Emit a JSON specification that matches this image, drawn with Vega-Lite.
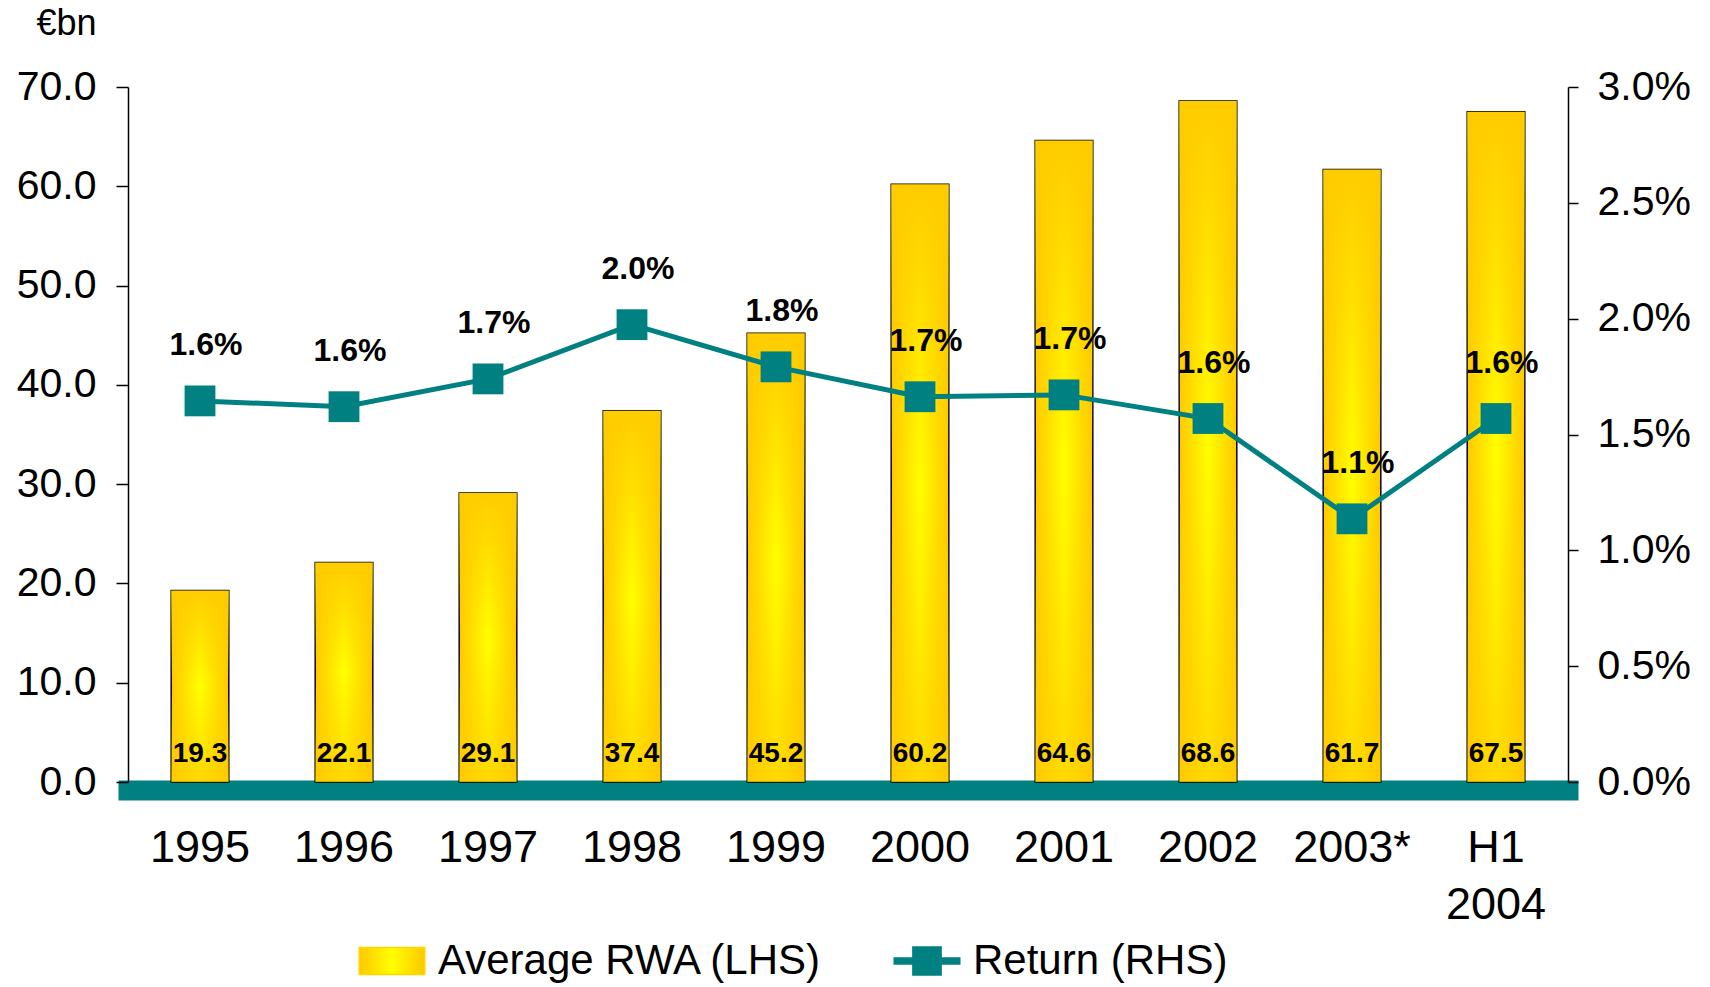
{
  "$schema": "https://vega.github.io/schema/vega-lite/v6.json",
  "width": 1440,
  "height": 695,
  "autosize": {"type": "none"},
  "padding": {"left": 128, "top": 87, "right": 142, "bottom": 205},
  "background": "white",
  "config": {"view": {"stroke": null}, "font": "Liberation Sans"},
  "data": {
    "values": [
      {"period": "1995", "rwa": 19.3, "ret": 0.01645},
      {"period": "1996", "rwa": 22.1, "ret": 0.01620},
      {"period": "1997", "rwa": 29.1, "ret": 0.01740},
      {"period": "1998", "rwa": 37.4, "ret": 0.01974},
      {"period": "1999", "rwa": 45.2, "ret": 0.01792},
      {"period": "2000", "rwa": 60.2, "ret": 0.01663},
      {"period": "2001", "rwa": 64.6, "ret": 0.01671},
      {"period": "2002", "rwa": 68.6, "ret": 0.01569},
      {"period": "2003*", "rwa": 61.7, "ret": 0.01136},
      {"period": "H1 2004", "rwa": 67.5, "ret": 0.01569}
    ]
  },
  "layer": [
    {
      "encoding": {
        "x": {
          "field": "period", "type": "nominal", "sort": null,
          "scale": {"paddingInner": 0.6, "paddingOuter": 0.3},
          "axis": {
            "title": null, "offset": 8, "domainColor": "#008080", "domainWidth": 20, "domainCap": "square",
            "ticks": false, "labelFontSize": 45, "labelColor": "black", "labelFont": "Liberation Sans",
            "labelPadding": 35, "labelAngle": 0, "labelLineHeight": 57,
            "labelExpr": "datum.value === 'H1 2004' ? ['H1', '2004'] : datum.label"
          }
        },
        "y": {
          "field": "rwa", "type": "quantitative",
          "scale": {"domain": [0, 70], "nice": false},
          "axis": {
            "orient": "left", "values": [0, 10, 20, 30, 40, 50, 60, 70], "format": ".1f",
            "grid": false, "labelFontSize": 41, "labelColor": "black", "labelFont": "Liberation Sans",
            "tickColor": "black", "tickSize": 12, "tickWidth": 1.5, "domainColor": "black", "domainWidth": 1.5,
            "labelPadding": 20,
            "title": "€bn", "titleAngle": 0, "titleX": -92, "titleY": -53, "titleAlign": "left",
            "titleBaseline": "alphabetic", "titleFontSize": 36, "titleFontWeight": "normal",
            "titleFont": "Liberation Sans", "titleColor": "black"
          }
        }
      },
      "layer": [
        {
          "mark": {
            "type": "bar", "stroke": "black", "strokeWidth": 1.5,
            "fill": {
              "gradient": "linear", "x1": 0, "y1": 0, "x2": 1, "y2": 0,
              "stops": [
                {"offset": 0, "color": "#FFC800"},
                {"offset": 0.5, "color": "#FFFF00"},
                {"offset": 1, "color": "#FFC800"}
              ]
            }
          }
        },
        {
          "mark": {
            "type": "bar",
            "fill": {
              "gradient": "linear", "x1": 0, "y1": 0, "x2": 0, "y2": 1,
              "stops": [
                {"offset": 0, "color": "rgba(255,204,0,1)"},
                {"offset": 0.5, "color": "rgba(255,204,0,0)"},
                {"offset": 1, "color": "rgba(255,204,0,0.75)"}
              ]
            }
          }
        },
        {
          "mark": {"type": "text", "font": "Liberation Sans", "fontWeight": "bold", "fontSize": 28, "baseline": "alphabetic", "dy": -20, "color": "black"},
          "encoding": {
            "y": {"datum": 0, "type": "quantitative"},
            "text": {"field": "rwa", "type": "quantitative", "format": ".1f"}
          }
        }
      ]
    },
    {
      "encoding": {
        "x": {
          "field": "period", "type": "nominal", "sort": null,
          "scale": {"paddingInner": 0.6, "paddingOuter": 0.3},
          "axis": {
            "title": null, "offset": 8, "domainColor": "#008080", "domainWidth": 20, "domainCap": "square",
            "ticks": false, "labelFontSize": 45, "labelColor": "black", "labelFont": "Liberation Sans",
            "labelPadding": 35, "labelAngle": 0, "labelLineHeight": 57,
            "labelExpr": "datum.value === 'H1 2004' ? ['H1', '2004'] : datum.label"
          }
        },
        "y": {
          "field": "ret", "type": "quantitative",
          "scale": {"domain": [0, 0.03], "nice": false},
          "axis": {
            "orient": "right", "values": [0, 0.005, 0.01, 0.015, 0.02, 0.025, 0.03], "format": ".1%",
            "grid": false, "labelFontSize": 41, "labelColor": "black", "labelFont": "Liberation Sans",
            "tickColor": "black", "tickSize": 10, "tickWidth": 1.5, "domainColor": "black", "domainWidth": 1.5,
            "labelPadding": 19, "title": null
          }
        }
      },
      "layer": [
        {
          "mark": {"type": "line", "strokeWidth": 5},
          "encoding": {
            "stroke": {
              "datum": "Return (RHS)",
              "scale": {"domain": ["Average RWA (LHS)", "Return (RHS)"], "range": ["#FFD700", "#008080"]},
              "legend": {
                "orient": "none", "legendX": 230, "legendY": 840, "direction": "horizontal", "columns": 2,
                "columnPadding": 68, "title": null, "labelFontSize": 42, "labelFont": "Liberation Sans",
                "labelColor": "black", "labelLimit": 1000, "labelOffset": 12, "symbolSize": 4300, "padding": 0,
                "symbolStrokeWidth": 1.5,
                "encode": {
                  "symbols": {
                    "update": {
                      "shape": {"signal": "datum.value === 'Average RWA (LHS)' ? 'M-1,-0.41H1V0.41H-1Z' : 'M-1,-0.09H1V0.09H-1Z M-0.43,-0.43H0.43V0.43H-0.43Z'"},
                      "fill": {"signal": "datum.value === 'Average RWA (LHS)' ? {gradient: 'linear', x1: 0, y1: 0, x2: 1, y2: 0, stops: [{offset: 0, color: '#FFC800'}, {offset: 0.5, color: '#FFFF00'}, {offset: 1, color: '#FFC800'}]} : '#008080'"},
                      "stroke": {"signal": "datum.value === 'Average RWA (LHS)' ? '#000000' : 'transparent'"},
                      "opacity": {"value": 1}
                    }
                  }
                }
              }
            }
          }
        },
        {
          "mark": {"type": "point", "shape": "square", "size": 950, "filled": true, "color": "#008080", "opacity": 1}
        },
        {
          "mark": {"type": "text", "font": "Liberation Sans", "fontWeight": "bold", "fontSize": 32, "baseline": "alphabetic", "dy": -46, "dx": 6, "color": "black"},
          "encoding": {
            "text": {"field": "ret", "type": "quantitative", "format": ".1%"}
          }
        }
      ]
    }
  ],
  "resolve": {"scale": {"y": "independent"}}
}
